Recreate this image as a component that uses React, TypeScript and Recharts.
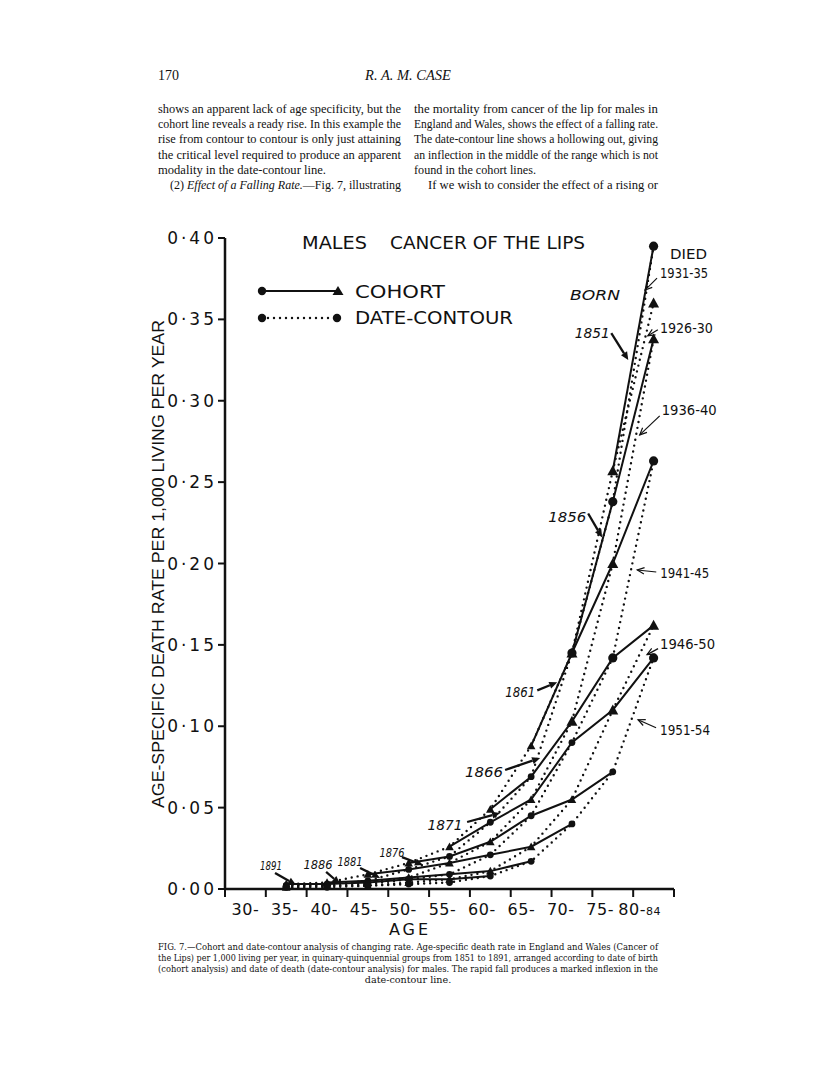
import React from "react";
import { LineChart, Line, XAxis, YAxis, ReferenceDot, Legend } from "recharts";

// age groups: start age of each quinquennial group plotted (35- ... 80-84)
const ageStarts = [35, 40, 45, 50, 55, 60, 65, 70, 75, 80];
const axisLabels = ["30-", "35-", "40-", "45-", "50-", "55-", "60-", "65-", "70-", "75-", "80-84"];
const xTicks = [30, 35, 40, 45, 50, 55, 60, 65, 70, 75, 80, 85];
const yTicks = [0, 0.05, 0.1, 0.15, 0.2, 0.25, 0.3, 0.35, 0.4];

// date of death (date-contour lines)
const periods = ["1926-30", "1931-35", "1936-40", "1941-45", "1946-50", "1951-54"];
const periodYears = [1926, 1931, 1936, 1941, 1946, 1951];

// death rate per 1,000 living per year, by age group 35- ... 80-84
const died1926 = [0.003, 0.004, 0.009, 0.016, 0.026, 0.049, 0.088, 0.145, 0.257, 0.36];
const died1931 = [0.002, 0.003, 0.005, 0.012, 0.02, 0.041, 0.069, 0.145, 0.238, 0.395];
const died1936 = [0.002, 0.003, 0.004, 0.007, 0.016, 0.029, 0.055, 0.103, 0.2, 0.338];
const died1941 = [0.002, 0.002, 0.003, 0.006, 0.009, 0.021, 0.045, 0.09, 0.142, 0.263];
const died1946 = [0.001, 0.002, 0.002, 0.004, 0.006, 0.011, 0.026, 0.055, 0.11, 0.162];
const died1951 = [0.001, 0.001, 0.002, 0.003, 0.004, 0.008, 0.017, 0.04, 0.072, 0.142];
const rates = [died1926, died1931, died1936, died1941, died1946, died1951];

// year of birth (cohort lines)
const cohorts = [1851, 1856, 1861, 1866, 1871, 1876, 1881, 1886, 1891];

// one row per age group, date-contour and cohort values side by side
const rows = ageStarts.map((a, i) => {
  const row: Record<string, number> = { age: a + 2.5 };
  periods.forEach((p, k) => {
    row[p] = rates[k][i];
  });
  cohorts.forEach((b) => {
    const k = periodYears.indexOf(b + a);
    if (k >= 0) row["c" + b] = rates[k][i];
  });
  return row;
});

// labels with arrows: tip at (age, rate), label/arrow start offsets in px
const cohortNotes = [
  { label: "1851", age: 79.4, rate: 0.325, lx: -36, ly: -27, sx: -17, sy: -27, w: 35 },
  { label: "1856", age: 76.2, rate: 0.216, lx: -35, ly: -20, sx: -14, sy: -24, w: 38 },
  { label: "1861", age: 70.7, rate: 0.127, lx: -37, ly: 10, sx: -20, sy: 8, w: 30 },
  { label: "1866", age: 68.6, rate: 0.0805, lx: -56, ly: 14, sx: -35, sy: 12, w: 38 },
  { label: "1871", age: 63.7, rate: 0.0467, lx: -55, ly: 12, sx: -33, sy: 9, w: 35 },
  { label: "1876", age: 54.25, rate: 0.0147, lx: -31, ly: -12, sx: -21, sy: -8, w: 25 },
  { label: "1881", age: 49.0, rate: 0.0068, lx: -30, ly: -16, sx: -20, sy: -10, w: 25 },
  { label: "1886", age: 44.1, rate: 0.0031, lx: -22, ly: -19, sx: -14, sy: -12, w: 29 },
  { label: "1891", age: 38.7, rate: 0.0025, lx: -25, ly: -19, sx: -21, sy: -12, w: 22 },
];
const periodNotes = [
  { label: "1931-35", age: 81.45, rate: 0.368, lx: 15, ly: -17, sx: 12, sy: -12, w: 48 },
  { label: "1926-30", age: 81.8, rate: 0.34, lx: 12, ly: -8, sx: 10, sy: -6, w: 53 },
  { label: "1936-40", age: 80.8, rate: 0.279, lx: 22, ly: -25, sx: 20, sy: -19, w: 55 },
  { label: "1941-45", age: 80.5, rate: 0.196, lx: 23, ly: 3, sx: 19, sy: 2, w: 49 },
  { label: "1946-50", age: 81.7, rate: 0.144, lx: 13, ly: -11, sx: 11, sy: -6, w: 55 },
  { label: "1951-54", age: 80.6, rate: 0.104, lx: 22, ly: 10, sx: 18, sy: 8, w: 50 },
];

const W = 700;
const H = 760;
const M = { top: 58, right: 126, bottom: 0, left: 25 };
const Y_W = 100;
const PLOT_W = W - M.left - M.right - Y_W;
const HALF_STEP = (PLOT_W / 55) * 2.5;
const INK = "#111";
const SANS = "'DejaVu Sans', sans-serif";
const SERIF = "'Liberation Serif', serif";

function Marker(props: any) {
  const { cx, cy, value, index, dataKey, tri } = props;
  if (cx == null || cy == null || value == null) return null;
  const big = value > 0.1;
  if (tri) {
    const s = big ? 5.5 : 4.3;
    return (
      <path
        key={`${dataKey}-${index}`}
        d={`M${cx},${cy - s} L${cx + s},${cy + s * 0.8} L${cx - s},${cy + s * 0.8} Z`}
        fill={INK}
      />
    );
  }
  return <circle key={`${dataKey}-${index}`} cx={cx} cy={cy} r={big ? 4.6 : 3.4} fill={INK} />;
}

function Note(props: any) {
  const { cx, cy, n, heavy } = props;
  const x0 = cx + n.sx;
  const y0 = cy + n.sy;
  const len = Math.hypot(cx - x0, cy - y0) || 1;
  const ux = (cx - x0) / len;
  const uy = (cy - y0) / len;
  const hl = heavy ? 8 : 7;
  const hw = heavy ? 3.6 : 3.2;
  const bx = cx - ux * hl;
  const by = cy - uy * hl;
  const p1 = `${bx - uy * hw},${by + ux * hw}`;
  const p2 = `${bx + uy * hw},${by - ux * hw}`;
  return (
    <g>
      <line x1={x0} y1={y0} x2={heavy ? bx : cx} y2={heavy ? by : cy} stroke={INK} strokeWidth={heavy ? 2.3 : 1.2} />
      {heavy ? (
        <path d={`M${cx},${cy} L${p1} L${p2} Z`} fill={INK} />
      ) : (
        <path d={`M${p1} L${cx},${cy} L${p2}`} fill="none" stroke={INK} strokeWidth={1.2} />
      )}
      <text
        x={cx + n.lx}
        y={cy + n.ly}
        textAnchor={heavy ? "middle" : "start"}
        dominantBaseline="central"
        fontFamily={SANS}
        fontStyle={heavy ? "italic" : "normal"}
        fontSize={heavy ? (n.rate < 0.02 ? 12 : 13.5) : 13.5}
        textLength={n.w}
        lengthAdjust="spacingAndGlyphs"
        fill={INK}
      >
        {n.label}
      </text>
    </g>
  );
}

function AgeTick(props: any) {
  const { x, y, payload } = props;
  const k = Math.round((payload.value - 30) / 5);
  const label = axisLabels[k];
  if (!label) return null;
  // the printed labels drift slightly left of the group centres towards the old ages
  const cx = x + HALF_STEP - k * 1.4;
  const last = label.length > 3;
  return (
    <text x={cx} y={y} dy="0.71em" textAnchor="middle" fontFamily={SANS} fontSize={16} letterSpacing={0.5} fill={INK}>
      {last ? label.slice(0, 3) : label}
      {last && <tspan fontSize={11}>{label.slice(3)}</tspan>}
    </text>
  );
}

function LegendBox() {
  return (
    <svg width={290} height={52}>
      <line x1={12} y1={11} x2={86} y2={11} stroke={INK} strokeWidth={2} />
      <circle cx={12} cy={11} r={4.2} fill={INK} />
      <path d="M88,6 L93.5,15 L82.5,15 Z" fill={INK} />
      <text x={105} y={17.5} fontFamily={SANS} fontSize={17} textLength={90} lengthAdjust="spacingAndGlyphs" fill={INK}>
        COHORT
      </text>
      <line x1={12} y1={38} x2={87} y2={38} stroke={INK} strokeWidth={2.4} strokeDasharray="0 6" strokeLinecap="round" />
      <circle cx={12} cy={38} r={4.2} fill={INK} />
      <circle cx={87} cy={38} r={4.2} fill={INK} />
      <text x={105} y={44} fontFamily={SANS} fontSize={17} textLength={158} lengthAdjust="spacingAndGlyphs" fill={INK}>
        DATE-CONTOUR
      </text>
    </svg>
  );
}

function Chart() {
  return (
    <LineChart width={W} height={H} data={rows} margin={M}>
      <XAxis
        dataKey="age"
        type="number"
        domain={[30, 85]}
        ticks={xTicks}
        height={51}
        tick={<AgeTick />}
        tickSize={8}
        tickMargin={7}
        axisLine={{ stroke: INK, strokeWidth: 2.5 }}
        tickLine={{ stroke: INK, strokeWidth: 2 }}
      />
      <YAxis
        type="number"
        domain={[0, 0.4]}
        ticks={yTicks}
        width={Y_W}
        tickSize={7}
        tickMargin={1}
        tickFormatter={(v: number) => v.toFixed(2).replace(".", "\u00b7")}
        tick={{ fontFamily: SANS, fontSize: 17, fill: INK, letterSpacing: 3 }}
        axisLine={{ stroke: INK, strokeWidth: 2.5 }}
        tickLine={{ stroke: INK, strokeWidth: 2 }}
      />
      <Legend
        layout="vertical"
        align="center"
        verticalAlign="middle"
        content={() => <LegendBox />}
        wrapperStyle={{ position: "absolute", left: 150, top: 100, width: 290, height: 52 }}
      />
      {periods.map((p, k) => (
        <Line
          key={p}
          dataKey={p}
          name={p}
          type="linear"
          stroke={INK}
          strokeWidth={2.4}
          strokeDasharray="0 6"
          strokeLinecap="round"
          dot={(d: any) => <Marker {...d} key={`${p}-${d.index}`} tri={k % 2 === 0} />}
          activeDot={false}
          isAnimationActive={false}
        />
      ))}
      {cohorts.map((b) => (
        <Line
          key={b}
          dataKey={"c" + b}
          name={String(b)}
          type="linear"
          stroke={INK}
          strokeWidth={2}
          dot={false}
          activeDot={false}
          legendType="none"
          isAnimationActive={false}
        />
      ))}
      {cohortNotes.map((n) => (
        <ReferenceDot key={n.label} x={n.age} y={n.rate} r={0} shape={(d: any) => <Note {...d} n={n} heavy />} />
      ))}
      {periodNotes.map((n) => (
        <ReferenceDot key={n.label} x={n.age} y={n.rate} r={0} shape={(d: any) => <Note {...d} n={n} />} />
      ))}
    </LineChart>
  );
}

const col1 = [
  "shows an apparent lack of age specificity, but the",
  "cohort line reveals a ready rise.  In this example the",
  "rise from contour to contour is only just attaining",
  "the critical level required to produce an apparent",
];
const col2 = [
  "the mortality from cancer of the lip for males in",
  "England and Wales, shows the effect of a falling rate.",
  "The date-contour line shows a hollowing out, giving",
  "an inflection in the middle of the range which is not",
];
const caption = [
  "FIG. 7.\u2014Cohort and date-contour analysis of changing rate.  Age-specific death rate in England and Wales (Cancer of",
  "the Lips) per 1,000 living per year, in quinary-quinquennial groups from 1851 to 1891, arranged according to date of birth",
  "(cohort analysis) and date of death (date-contour analysis) for males. The rapid fall produces a marked inflexion in the",
];

const LEAD = 15.2;
const TOP = 113;

function Page() {
  const body = { fontFamily: SERIF, fontSize: 13, fill: INK } as any;
  const cap = { fontFamily: "'DejaVu Serif', serif", fontSize: 9.6, fill: INK } as any;
  return (
    <svg width={816} height={1090} style={{ position: "absolute", left: 0, top: 0, pointerEvents: "none" }}>
      <text x={158} y={80} {...body} fontSize={14}>170</text>
      <text x={408} y={80} {...body} fontSize={14.5} fontStyle="italic" textAnchor="middle">R. A. M. CASE</text>
      {col1.map((t, i) => (
        <text key={t} x={158} y={TOP + i * LEAD} {...body} textLength={243} lengthAdjust="spacingAndGlyphs">{t}</text>
      ))}
      <text x={158} y={TOP + 4 * LEAD} {...body} textLength={168} lengthAdjust="spacingAndGlyphs">modality in the date-contour line.</text>
      <text x={170} y={TOP + 5 * LEAD} {...body} textLength={231} lengthAdjust="spacingAndGlyphs">
        (2) <tspan fontStyle="italic">Effect of a Falling Rate.</tspan>—Fig. 7, illustrating
      </text>
      {col2.map((t, i) => (
        <text key={t} x={414} y={TOP + i * LEAD} {...body} textLength={244} lengthAdjust="spacingAndGlyphs">{t}</text>
      ))}
      <text x={414} y={TOP + 4 * LEAD} {...body} textLength={122} lengthAdjust="spacingAndGlyphs">found in the cohort lines.</text>
      <text x={428} y={TOP + 5 * LEAD} {...body} textLength={230} lengthAdjust="spacingAndGlyphs">If we wish to consider the effect of a rising or</text>

      <text x={302} y={249} fontFamily={SANS} fontSize={17} textLength={65} lengthAdjust="spacingAndGlyphs" fill={INK}>MALES</text>
      <text x={390} y={249} fontFamily={SANS} fontSize={17} textLength={195} lengthAdjust="spacingAndGlyphs" fill={INK}>CANCER OF THE LIPS</text>
      <text x={670} y={259} fontFamily={SANS} fontSize={13.5} textLength={37} lengthAdjust="spacingAndGlyphs" fill={INK}>DIED</text>
      <text x={570} y={300} fontFamily={SANS} fontSize={13.5} fontStyle="italic" textLength={50} lengthAdjust="spacingAndGlyphs" fill={INK}>BORN</text>

      <text
        x={164}
        y={564}
        transform="rotate(-90 164 564)"
        textAnchor="middle"
        fontFamily="'Liberation Sans Narrow', 'Liberation Sans', sans-serif"
        fontSize={16}
        textLength={488}
        lengthAdjust="spacingAndGlyphs"
        fill={INK}
      >
        AGE-SPECIFIC DEATH RATE PER 1,000 LIVING PER YEAR
      </text>
      <text x={410} y={935} textAnchor="middle" fontFamily={SANS} fontSize={16} letterSpacing={3} fill={INK}>AGE</text>

      {caption.map((t, i) => (
        <text key={t} x={158} y={950 + i * 11} {...cap} textLength={500} lengthAdjust="spacingAndGlyphs">{t}</text>
      ))}
      <text x={408} y={983} {...cap} textAnchor="middle">date-contour line.</text>
    </svg>
  );
}

export default function App() {
  return (
    <div style={{ position: "absolute", left: 0, top: 0, width: 816, height: 1090, background: "#fff" }}>
      <div style={{ position: "absolute", left: 100, top: 180 }}>
        <Chart />
      </div>
      <Page />
    </div>
  );
}
